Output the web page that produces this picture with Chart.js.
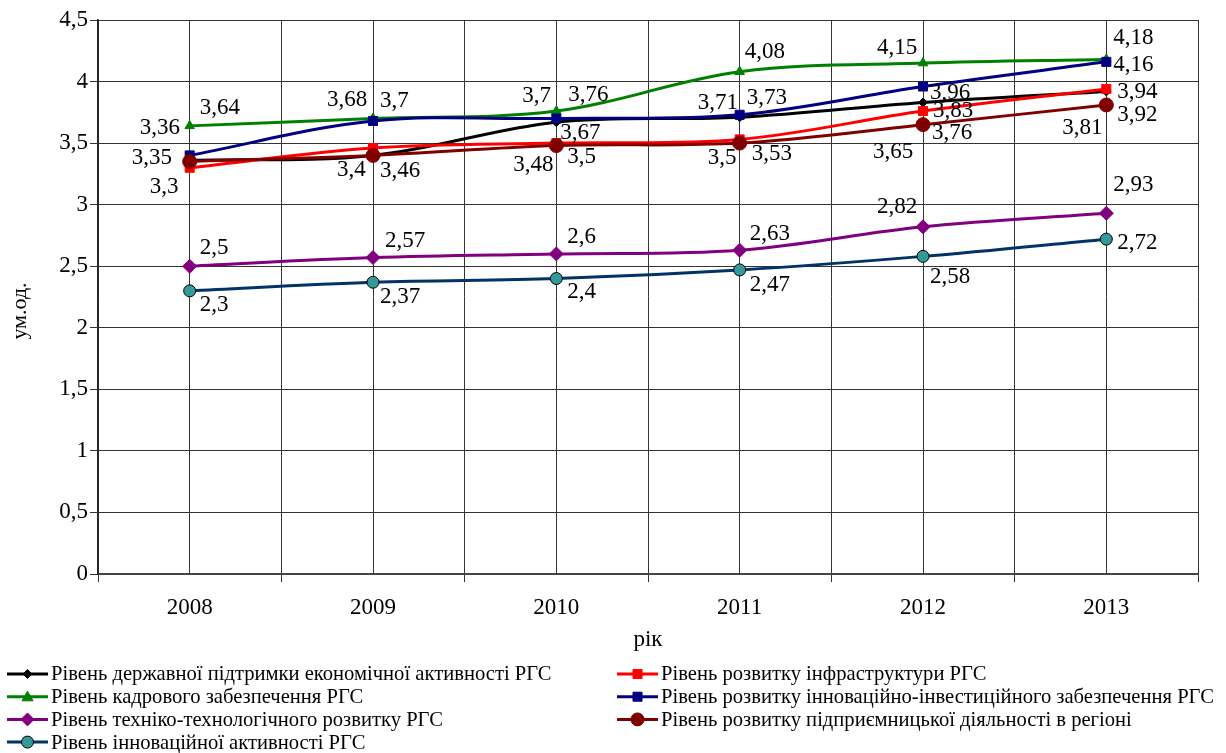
<!DOCTYPE html>
<html><head><meta charset="utf-8">
<script src="https://cdn.jsdelivr.net/npm/chart.js@4.4.1/dist/chart.umd.min.js"></script>
<style>html,body{margin:0;padding:0;background:#fff;}#wrap{width:1226px;height:753px;}</style>
</head><body><div id="wrap"><canvas id="c" width="1226" height="753"></canvas></div>
<script>
// ---- data ----
const years = ['2008', '2009', '2010', '2011', '2012', '2013'];
const seriesNames = [
  'Рівень державної підтримки економічної активності РГС',
  'Рівень розвитку інфраструктури РГС',
  'Рівень кадрового забезпечення РГС',
  'Рівень розвитку інноваційно-інвестиційного забезпечення РГС',
  'Рівень техніко-технологічного розвитку РГС',
  'Рівень розвитку підприємницької діяльності в регіоні',
  'Рівень інноваційної активності РГС'
];
const stateSupport     = [3.36, 3.40, 3.67, 3.71, 3.83, 3.92];
const infrastructure   = [3.30, 3.46, 3.50, 3.53, 3.76, 3.94];
const staffing         = [3.64, 3.70, 3.76, 4.08, 4.15, 4.18];
const innovInvestment  = [3.40, 3.68, 3.70, 3.73, 3.96, 4.16];
const techDevelopment  = [2.50, 2.57, 2.60, 2.63, 2.82, 2.93];
const entrepreneurship = [3.35, 3.40, 3.48, 3.50, 3.65, 3.81];
const innovActivity    = [2.30, 2.37, 2.40, 2.47, 2.58, 2.72];
const yTickValues = [0, 0.5, 1, 1.5, 2, 2.5, 3, 3.5, 4, 4.5];
const xTitle = 'рік';
const yTitle = 'ум.од.';

// ---- styles ----
const styles = [
  {color: '#000000', fill: '#000000', border: '#000000', style: 'rectRot',  r: 4.5},
  {color: '#FF0000', fill: '#FF0000', border: '#FF0000', style: 'rect',     r: 6.4},
  {color: '#008000', fill: '#008000', border: '#008000', style: 'triangle', r: 5.5},
  {color: '#000080', fill: '#000080', border: '#000080', style: 'rect',     r: 6.4},
  {color: '#800080', fill: '#800080', border: '#800080', style: 'rectRot',  r: 7},
  {color: '#800000', fill: '#800000', border: '#800000', style: 'circle',   r: 7},
  {color: '#003366', fill: '#339999', border: '#000000', style: 'circle',   r: 6}
];
// label placement (left edge dx, vertical centre dy) relative to the point; null = no label
const labelOffsets = [
  [[-50, -32], null, [4, 11], [-42, -14], [10, 8], [11, 24]],
  [[-40, 19], [7, 23], [11, 14], [12, 15], [9, 22], [11, 3]],
  [[10, -18], [7, -18], [12, -16], [5, -20], [-46, -15], [7, -21]],
  [null, [-46, -21], [-34, -23], [7, -17], [7, 6], [7, 3]],
  [[10, -18], [12, -17], [11, -17], [10, -16], [-46, -20], [7, -28]],
  [[-58, -4], [-36, 15], [-43, 19], [-32, 15], [-50, 27], [-44, 23]],
  [[10, 14], [7, 15], [11, 13], [10, 15], [7, 21], [11, 4]]
];

const seriesValues = [stateSupport, infrastructure, staffing, innovInvestment,
                      techDevelopment, entrepreneurship, innovActivity];
const FONT = '"Liberation Serif", "Times New Roman", serif';
const fmt = v => String(v).replace('.', ',');

const datasets = seriesValues.map((vals, i) => ({
  label: seriesNames[i],
  data: vals.map((v, k) => ({x: k, y: v})),
  borderColor: styles[i].color,
  backgroundColor: styles[i].fill,
  borderWidth: 3,
  pointStyle: styles[i].style,
  pointRadius: styles[i].r,
  pointBackgroundColor: styles[i].fill,
  pointBorderColor: styles[i].border,
  pointBorderWidth: 1,
  tension: 0.35,
  fill: false,
  order: -i
}));

function drawMarker(ctx, style, x, y, r) {
  ctx.beginPath();
  if (style === 'circle') {
    ctx.arc(x, y, r, 0, Math.PI * 2);
  } else if (style === 'rect') {
    const s = Math.SQRT1_2 * r;
    ctx.rect(x - s, y - s, 2 * s, 2 * s);
  } else if (style === 'rectRot') {
    ctx.moveTo(x - r, y); ctx.lineTo(x, y - r); ctx.lineTo(x + r, y); ctx.lineTo(x, y + r);
    ctx.closePath();
  } else if (style === 'triangle') {
    ctx.moveTo(x - r, y + r * 0.75);
    ctx.lineTo(x, y - r);
    ctx.lineTo(x + r, y + r * 0.75);
    ctx.closePath();
  }
  ctx.fill();
  ctx.stroke();
}

const valueLabels = {
  id: 'valueLabels',
  afterDatasetsDraw(chart) {
    const ctx = chart.ctx;
    ctx.save();
    ctx.font = '23px ' + FONT;
    ctx.fillStyle = '#000';
    ctx.textAlign = 'left';
    ctx.textBaseline = 'middle';
    chart.data.datasets.forEach((ds, di) => {
      const meta = chart.getDatasetMeta(di);
      meta.data.forEach((pt, k) => {
        const o = labelOffsets[di][k];
        if (!o) return;
        ctx.fillText(fmt(ds.data[k].y), pt.x + o[0], pt.y + o[1]);
      });
    });
    ctx.restore();
  }
};

const yAxisTitle = {
  id: 'yAxisTitle',
  afterDraw(chart) {
    const ctx = chart.ctx;
    ctx.save();
    ctx.font = '22px ' + FONT;
    ctx.fillStyle = '#000';
    ctx.textAlign = 'center';
    ctx.textBaseline = 'middle';
    ctx.translate(20, 311);
    ctx.rotate(-Math.PI / 2);
    ctx.fillText(yTitle, 0, 0);
    ctx.restore();
  }
};

const gridLegend = {
  id: 'gridLegend',
  afterDraw(chart) {
    const ctx = chart.ctx;
    ctx.save();
    ctx.font = '20.6px ' + FONT;
    ctx.textBaseline = 'middle';
    ctx.textAlign = 'left';
    const cols = [7, 617];
    const y0 = 674, dy = 22.7;
    seriesNames.forEach((name, i) => {
      const col = i % 2, row = Math.floor(i / 2);
      const x = cols[col], y = y0 + row * dy;
      const st = styles[i];
      ctx.strokeStyle = st.color;
      ctx.lineWidth = 3;
      ctx.beginPath(); ctx.moveTo(x, y); ctx.lineTo(x + 41, y); ctx.stroke();
      ctx.fillStyle = st.fill;
      ctx.strokeStyle = st.border;
      ctx.lineWidth = 1;
      drawMarker(ctx, st.style, x + 20.5, y, Math.min(st.r, 6.5));
      ctx.fillStyle = '#000';
      ctx.fillText(name, x + 44, y + 1);
    });
    ctx.restore();
  }
};

new Chart(document.getElementById('c'), {
  type: 'line',
  data: {datasets},
  options: {
    responsive: false,
    animation: false,
    devicePixelRatio: 1,
    layout: {padding: {top: 20, right: 28, bottom: 99, left: 0}},
    plugins: {legend: {display: false}, tooltip: {enabled: false}},
    scales: {
      x: {
        type: 'linear', min: -0.5, max: 5.5,
        afterBuildTicks: s => { s.ticks = []; for (let k = -1; k <= 11; k++) s.ticks.push({value: k / 2}); },
        afterFit: s => { s.height = 80; },
        ticks: {
          autoSkip: false, maxRotation: 0, padding: 12, color: '#000',
          font: {family: FONT, size: 23},
          callback: v => Number.isInteger(v) ? years[v] : ''
        },
        grid: {
          color: '#333', lineWidth: 1, tickLength: 8,
          tickColor: c => (c.tick && !Number.isInteger(c.tick.value)) ? '#333' : 'rgba(0,0,0,0)'
        },
        border: {color: '#444', width: 2},
        title: {display: true, text: xTitle, color: '#000', font: {family: FONT, size: 23}, padding: {top: 1, bottom: 0}}
      },
      y: {
        type: 'linear', min: 0, max: 4.5,
        afterBuildTicks: s => { s.ticks = yTickValues.map(v => ({value: v})); },
        afterFit: s => { s.width = 98; },
        ticks: {padding: 2, color: '#000', font: {family: FONT, size: 23}, callback: v => fmt(v)},
        grid: {color: '#333', lineWidth: 1, tickLength: 8, tickColor: '#333'},
        border: {color: '#222', width: 1.5},
        title: {display: false}
      }
    }
  },
  plugins: [valueLabels, yAxisTitle, gridLegend]
});
</script>
</body></html>
